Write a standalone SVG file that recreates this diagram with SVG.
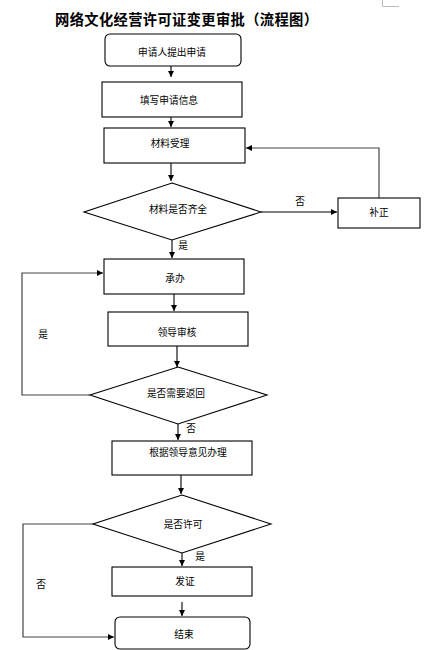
<svg xmlns="http://www.w3.org/2000/svg" width="429" height="650" viewBox="0 0 429 650">
<defs>
<marker id="ah" markerWidth="8" markerHeight="8" refX="6" refY="3" orient="auto" markerUnits="userSpaceOnUse">
<path d="M0,0 L6,3 L0,6 Z" fill="#000"/>
</marker>
<style>
.b{fill:#fff;stroke:#000;stroke-width:1.1}
.t{font-family:"Noto Sans CJK SC","Noto Sans",sans-serif;font-size:9.7px;fill:#000;text-anchor:middle;dominant-baseline:central}
.l{font-family:"Noto Sans CJK SC","Noto Sans",sans-serif;font-size:9.7px;fill:#000;text-anchor:middle;dominant-baseline:central}
.c{fill:none;stroke:#000;stroke-width:1.1;marker-end:url(#ah)}
.g{fill:none;stroke:#444;stroke-width:1.2;marker-end:url(#ah)}
</style>
</defs>
<rect width="429" height="650" fill="#fff"/>
<path d="M382.5,0 V6.5 H399" fill="none" stroke="#bbb" stroke-width="1"/>
<text x="55" y="18" textLength="263" lengthAdjust="spacing" font-family="'Noto Sans CJK SC',sans-serif" font-size="14.3" font-weight="bold" dominant-baseline="central" fill="#000">网络文化经营许可证变更审批（流程图）</text>

<g id="connectors">
<line class="c" x1="171" y1="66" x2="171" y2="77"/>
<line class="c" x1="171" y1="117" x2="171" y2="127"/>
<line class="c" x1="171" y1="163" x2="171" y2="181"/>
<line class="c" x1="261" y1="212" x2="337" y2="212"/>
<polyline class="g" points="379,198 379,148 246,148"/>
<line class="c" x1="172" y1="240" x2="172" y2="258"/>
<line class="c" x1="174" y1="294" x2="174" y2="311"/>
<line class="c" x1="177" y1="346" x2="177" y2="367"/>
<polyline class="g" points="90,395 22,395 22,273 103,273"/>
<line class="c" x1="178" y1="424" x2="178" y2="440"/>
<line class="c" x1="181" y1="475" x2="181" y2="494"/>
<line class="c" x1="182" y1="553" x2="182" y2="566"/>
<line class="c" x1="182" y1="602" x2="182" y2="616"/>
<polyline class="g" points="93,524 23,524 23,637 114,637"/>
<text class="l" x="300" y="201">否</text>
<text class="l" x="183" y="245">是</text>
<text class="l" x="43" y="334">是</text>
<text class="l" x="191" y="428">否</text>
<text class="l" x="200" y="556">是</text>
<text class="l" x="41" y="584">否</text>
</g>

<g id="n1"><rect class="b" x="105" y="34" width="136" height="32" rx="5"/><text class="t" x="172" y="52">申请人提出申请</text></g>
<g id="n2"><rect class="b" x="102" y="82" width="140" height="35"/><text class="t" x="169" y="100">填写申请信息</text></g>
<g id="n3"><rect class="b" x="104" y="128" width="141" height="35"/><text class="t" x="170" y="143">材料受理</text></g>
<g id="d1"><polygon class="b" points="172,183 261,212 172,240 84,212"/><text class="t" x="178" y="209">材料是否齐全</text></g>
<g id="n4"><rect class="b" x="338" y="198" width="82" height="30"/><text class="t" x="379" y="212">补正</text></g>
<g id="n5"><rect class="b" x="104" y="259" width="140" height="35"/><text class="t" x="175" y="278">承办</text></g>
<g id="n6"><rect class="b" x="108" y="312" width="140" height="34"/><text class="t" x="177" y="332">领导审核</text></g>
<g id="d2"><polygon class="b" points="178,367 267,395 178,424 90,395"/><text class="t" x="176" y="393">是否需要返回</text></g>
<g id="n7"><rect class="b" x="112" y="441" width="140" height="34"/><text class="t" x="188" y="452">根据领导意见办理</text></g>
<g id="d3"><polygon class="b" points="182,495 271,524 182,553 93,524"/><text class="t" x="183" y="524">是否许可</text></g>
<g id="n8"><rect class="b" x="112" y="567" width="140" height="29"/><text class="t" x="185" y="581">发证</text></g>
<g id="n9"><rect class="b" x="115" y="617" width="135" height="32" rx="5"/><text class="t" x="184" y="634">结束</text></g>
</svg>
